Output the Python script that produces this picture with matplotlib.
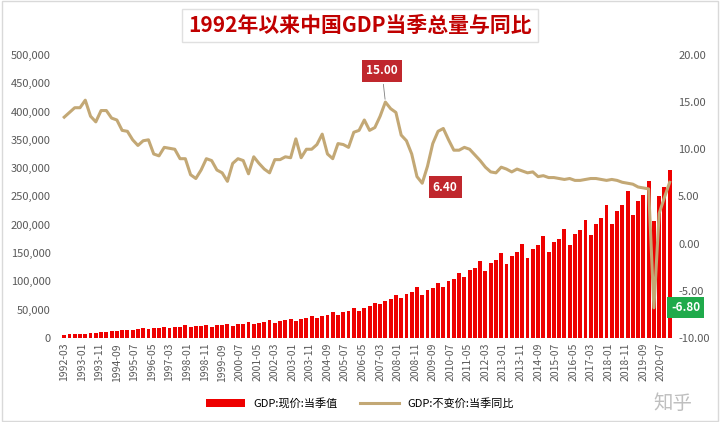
import matplotlib
matplotlib.use("Agg")
import matplotlib.pyplot as plt
from matplotlib.patches import Rectangle
from matplotlib import font_manager

names = {f.name for f in font_manager.fontManager.ttflist}
cjk = [n for n in ["Noto Sans CJK SC", "Noto Sans CJK JP", "Noto Sans CJK TC", "Noto Sans CJK KR"] if n in names]
plt.rcParams["font.family"] = cjk + ["DejaVu Sans"]
plt.rcParams["axes.unicode_minus"] = False

years = list(range(1992, 2021))
gdp = [
    5980,6660,6930,7620, 7850,8740,9100,9980, 10700,11920,12400,13620,
    13500,15030,15640,17170, 15800,17590,18310,20110, 17540,19530,20330,22320,
    18740,20870,21720,23860, 19920,22190,23090,25360, 22060,24570,25570,28080,
    24390,27160,28270,31040, 26780,29820,31040,34080, 30230,33670,35040,38480,
    35600,39650,41270,45320, 41210,45890,47770,52450, 48280,53760,55960,61440,
    59420,66170,68870,75630, 70230,78210,81410,89390, 76670,85390,88870,97590,
    90670,100970,105090,115390, 107350,119550,124420,136620, 118490,131950,137340,150800,
    130450,145280,151210,166030, 141580,157670,164110,180200, 151550,168770,175660,192880,
    164210,182870,190330,208990, 181870,201950,212790,235430, 202040,223960,234470,258810,
    218060,242570,252210,278020, 206500,250110,266170,296300]
growth = [
    13.4,13.9,14.4,14.4, 15.2,13.5,12.9,14.1, 14.1,13.3,13.1,12.0,
    11.9,11.0,10.4,10.9, 11.0,9.5,9.3,10.2, 10.1,10.0,9.0,9.0,
    7.3,6.9,7.8,9.0, 8.8,7.8,7.5,6.6, 8.5,9.0,8.8,7.4,
    9.2,8.5,7.9,7.5, 8.9,8.9,9.2,9.1, 11.1,9.1,10.0,10.0,
    10.5,11.6,9.5,9.0, 10.6,10.5,10.2,11.8, 12.0,13.1,12.0,12.3,
    13.5,15.0,14.3,13.9, 11.5,10.9,9.5,7.1, 6.4,8.2,10.6,11.9,
    12.2,11.0,9.9,9.9, 10.2,10.0,9.4,8.8, 8.1,7.6,7.5,8.1,
    7.9,7.6,7.9,7.7, 7.5,7.6,7.1,7.2, 7.0,7.0,6.9,6.8,
    6.9,6.7,6.7,6.8, 6.9,6.9,6.8,6.7, 6.8,6.7,6.5,6.4,
    6.3,6.0,5.9,5.8, -6.8,3.2,4.9,6.5]
tick_labels = ["1992-03","1993-01","1993-11","1994-09","1995-07","1996-05","1997-03",
    "1998-01","1998-11","1999-09","2000-07","2001-05","2002-03","2003-01","2003-11",
    "2004-09","2005-07","2006-05","2007-03","2008-01","2008-11","2009-09","2010-07",
    "2011-05","2012-03","2013-01","2013-11","2014-09","2015-07","2016-05","2017-03",
    "2018-01","2018-11","2019-09","2020-07"]

x = [3 * i for i in range(len(gdp))]
tick_pos = [10 * i for i in range(len(tick_labels))]

fig = plt.figure(figsize=(7.2, 4.22), dpi=100)
fig.patches.append(Rectangle((0.003, 0.003), 0.994, 0.994, transform=fig.transFigure,
                             fill=False, edgecolor="#d9d9d9", lw=1))
ax = fig.add_axes([0.077, 0.199, 0.858, 0.671])
ax.bar(x, gdp, width=2.2, color="#ee0000", label="GDP:现价:当季值")
ax.set_ylim(0, 500000)
ax.set_xlim(-5, 347)
ax.set_yticks(range(0, 500001, 50000))
ax.set_yticklabels([f"{v:,}" for v in range(0, 500001, 50000)])
ax.set_xticks(tick_pos)
ax.set_xticklabels(tick_labels, rotation=90)
ax2 = ax.twinx()
ax2.plot(x, growth, color="#c3a875", lw=2.2, label="GDP:不变价:当季同比")
ax2.set_ylim(-10, 20)
ax2.set_yticks(range(-10, 21, 5))
ax2.set_yticklabels([f"{v:.2f}" for v in range(-10, 21, 5)])
for a in (ax, ax2):
    for s in a.spines.values():
        s.set_visible(False)
    a.tick_params(length=0, labelsize=8, colors="#595959")
ax.tick_params(axis="x", labelsize=7.5)

i15 = growth.index(15.0); i64 = growth.index(6.4); im = growth.index(-6.8)
ax2.annotate("15.00", (x[i15], growth[i15]), xytext=(x[i15] - 2, 18.3), ha="center", va="center",
             color="white", fontsize=8.5, fontweight="bold",
             bbox=dict(boxstyle="square,pad=0.35", fc="#c0272d", ec="none"),
             arrowprops=dict(arrowstyle="-", color="#7f7f7f", lw=0.6))
ax2.annotate("6.40", (x[i64], growth[i64]), xytext=(x[i64] + 13, 6.0), ha="center", va="center",
             color="white", fontsize=8.5, fontweight="bold",
             bbox=dict(boxstyle="square,pad=0.35", fc="#c0272d", ec="none"))
ax2.annotate("-6.80", (x[im], growth[im]), xytext=(x[im] + 18, -6.8), ha="center", va="center",
             color="white", fontsize=8.5, fontweight="bold",
             bbox=dict(boxstyle="square,pad=0.35", fc="#1faa4b", ec="none"))

fig.text(0.5, 0.94, "1992年以来中国GDP当季总量与同比", ha="center", va="center",
         fontsize=15, fontweight="bold", color="#c00000",
         bbox=dict(boxstyle="square,pad=0.3", fc="white", ec="#e0e0e0"))
h1, l1 = ax.get_legend_handles_labels(); h2, l2 = ax2.get_legend_handles_labels()
fig.legend(h1 + h2, l1 + l2, loc="center", bbox_to_anchor=(0.5, 0.045), ncol=2,
           frameon=False, fontsize=8, handlelength=3.5, columnspacing=2)
fig.text(0.935, 0.045, "知乎", ha="center", va="center", fontsize=14, color="#bfbfbf")
fig.savefig("out.png", dpi=100)
